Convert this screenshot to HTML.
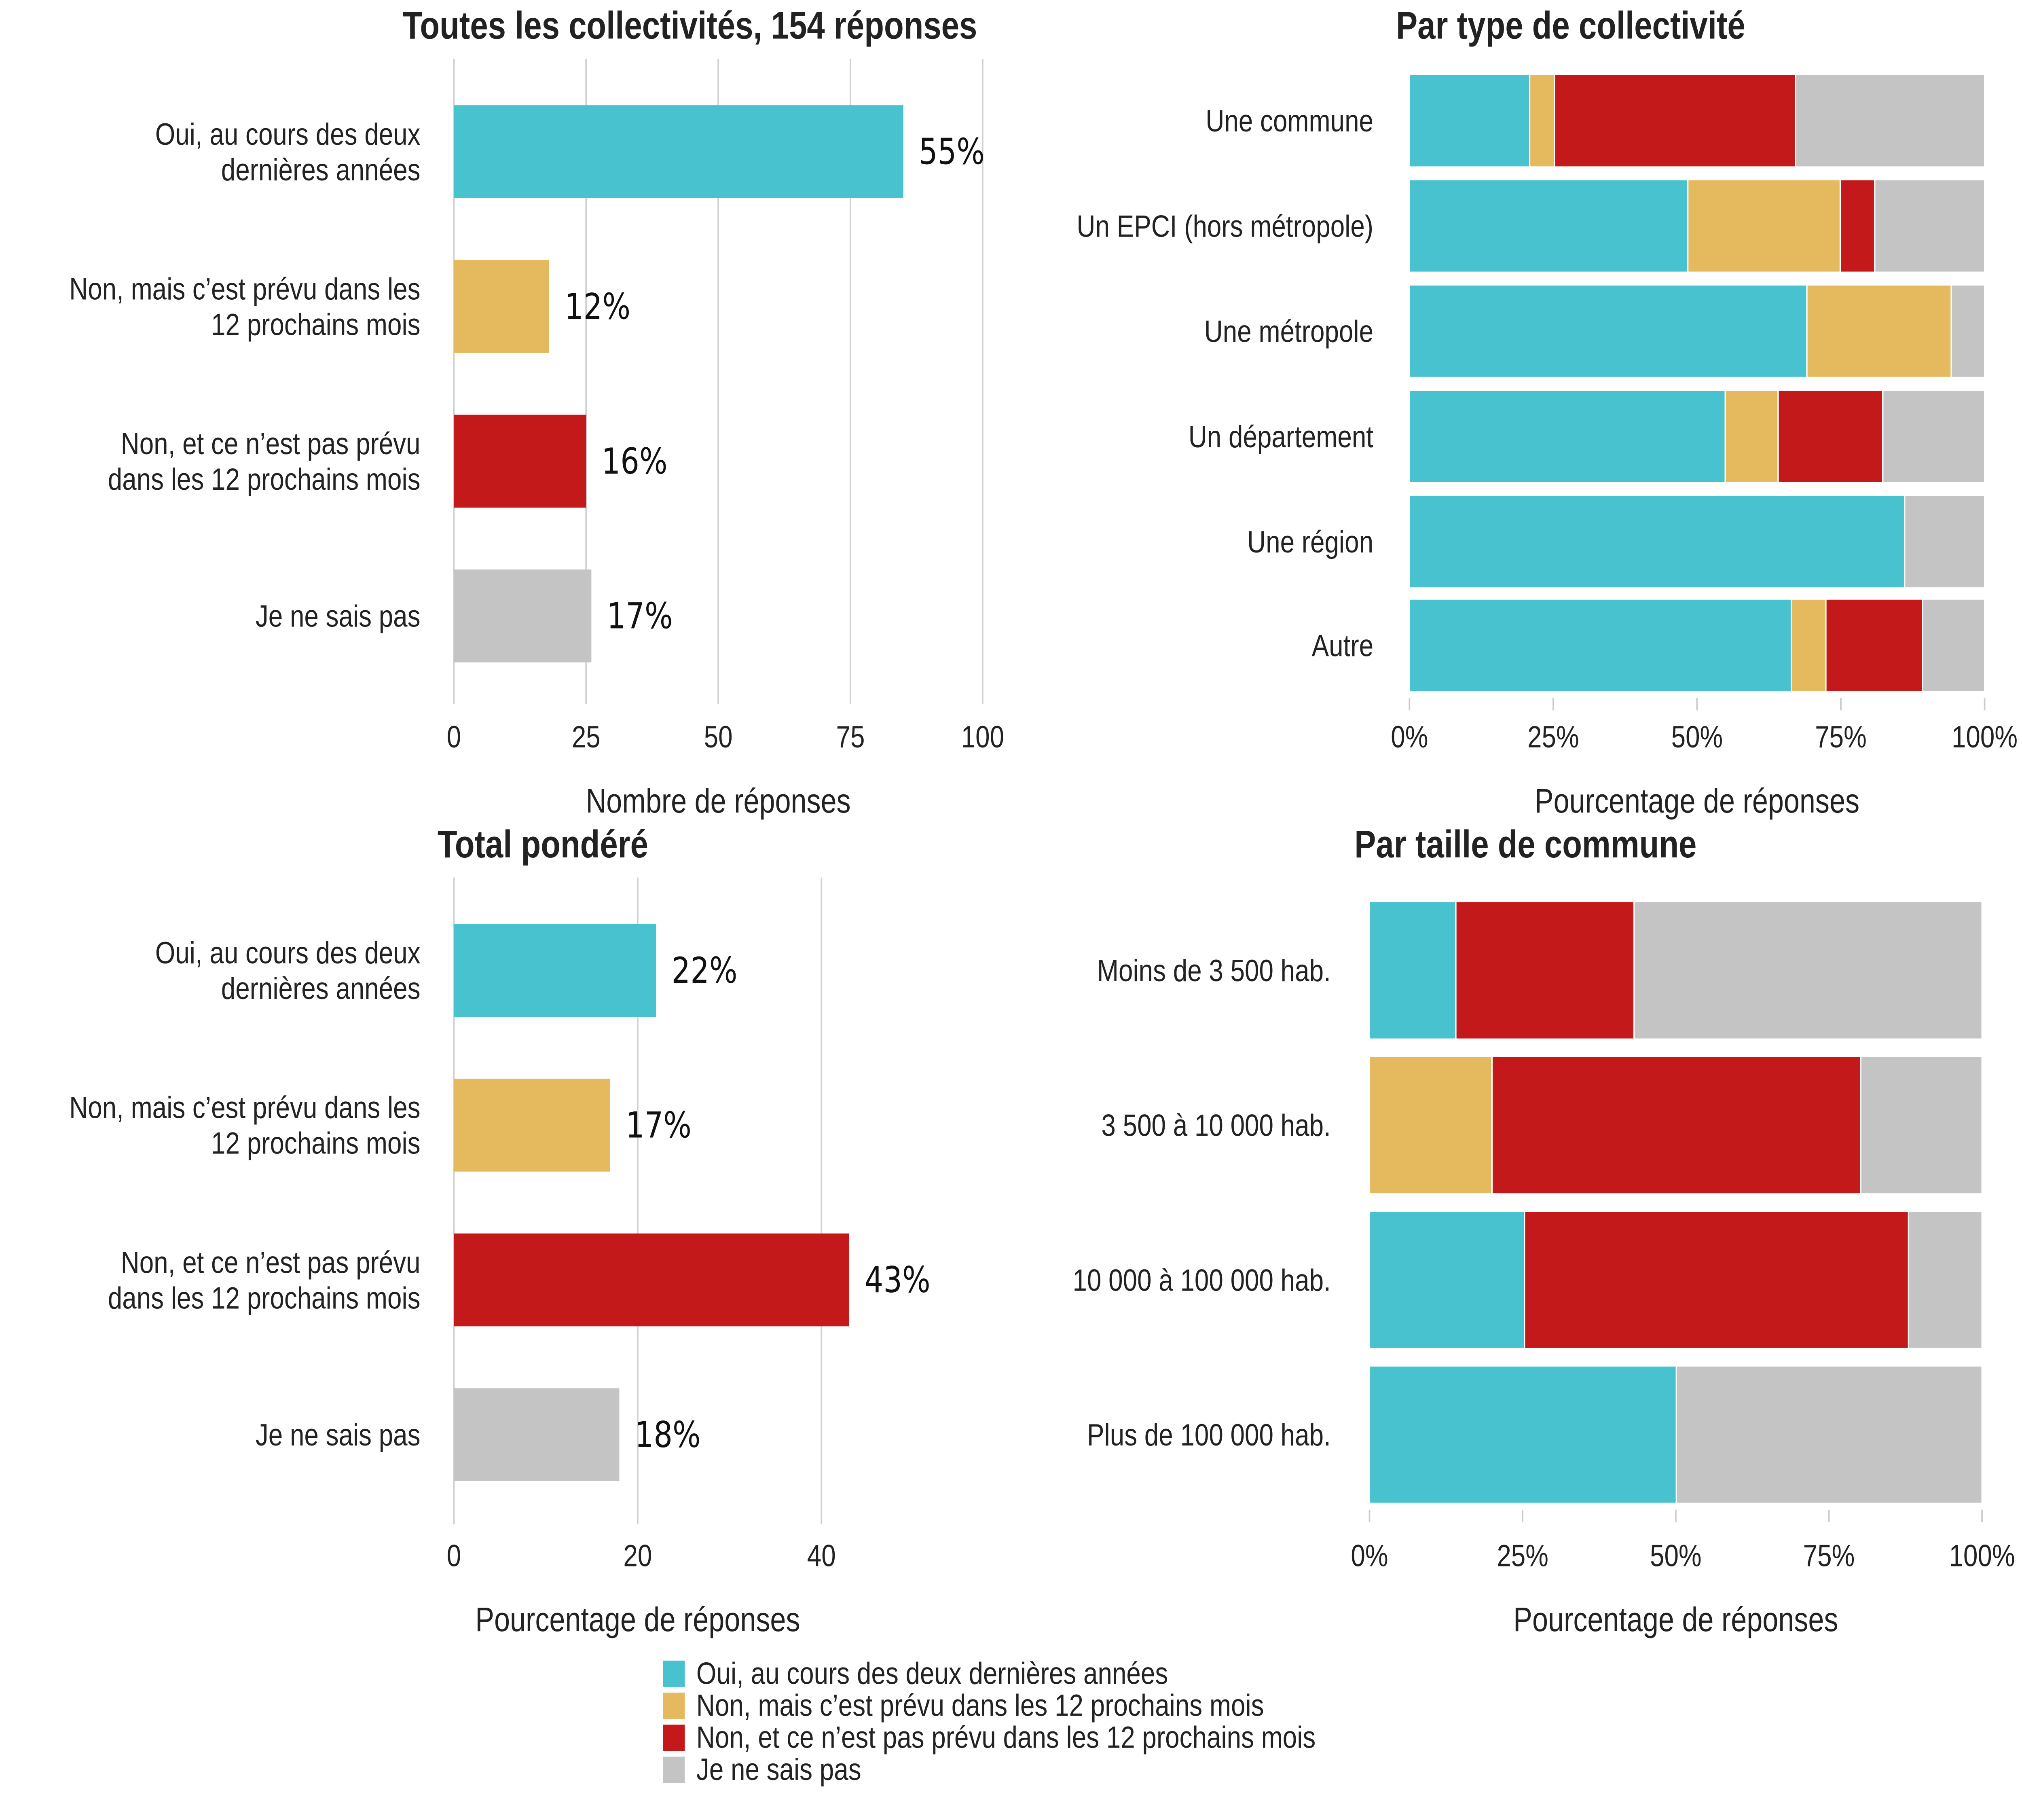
<!DOCTYPE html>
<html><head><meta charset="utf-8"><style>
html,body{margin:0;padding:0;background:#fff;width:100%;height:100%;overflow:hidden}
svg{display:block;font-family:"Liberation Sans",sans-serif;width:100vw;height:100vh}
</style></head><body>
<svg id="c" viewBox="0 0 1568 1176" preserveAspectRatio="none" xmlns="http://www.w3.org/2000/svg"><g id="root"></g></svg>
<script>
const colors = ["#47c2ce","#e5ba5e","#c4191b","#c4c4c4"];
const answers = ["Oui, au cours des deux dernières années","Non, mais c’est prévu dans les 12 prochains mois","Non, et ce n’est pas prévu dans les 12 prochains mois","Je ne sais pas"];
const answerLines = [["Oui, au cours des deux","dernières années"],["Non, mais c’est prévu dans les","12 prochains mois"],["Non, et ce n’est pas prévu","dans les 12 prochains mois"],["Je ne sais pas"]];
const p1Counts = [85,18,25,26];
const p1Labels = ["55%","12%","16%","17%"];
const p1Ticks = [0,25,50,75,100];
const p3Values = [22,17,43,18];
const p3Labels = ["22%","17%","43%","18%"];
const p3Ticks = [0,20,40];
const p2Cats = ["Une commune","Un EPCI (hors métropole)","Une métropole","Un département","Une région","Autre"];
const p2Oui = [20.9,48.4,69.1,54.9,86.1,66.4];
const p2NonMais = [4.3,26.5,25.1,9.2,0,6.0];
const p2NonEt = [41.9,6.0,0,18.2,0,16.8];
const p2Nsp = [32.9,19.1,5.8,17.7,13.9,10.8];
const p4Cats = ["Moins de 3 500 hab.","3 500 à 10 000 hab.","10 000 à 100 000 hab.","Plus de 100 000 hab."];
const p4Oui = [14.1,0,25.3,50.1];
const p4NonMais = [0,20,0,0];
const p4NonEt = [29.1,60.2,62.7,0];
const p4Nsp = [56.8,19.8,12.0,49.9];
const pctTicks = [0,25,50,75,100];
const pctTickLabels = ["0%","25%","50%","75%","100%"];

const svg = document.getElementById('root');
const NS = "http://www.w3.org/2000/svg";
function mk(tag, attrs, parent){const e=document.createElementNS(NS,tag);for(const k in attrs)e.setAttribute(k,attrs[k]);(parent||svg).appendChild(e);return e;}
function txt(s, attrs, parent){const e=mk('text',attrs,parent);e.textContent=s;return e;}

function barPanel(name, title, titleX, x0, x1, maxV, ticks, yTop, yBot, rowY, values, labels, tickY, axTitle){
  const g=mk('g',{});
  
  
  const sx=v=>x0+(x1-x0)*v/maxV;
  ticks.forEach(t=>{const l=mk('line',{x1:sx(t),x2:sx(t),y1:yTop,y2:yBot,stroke:'#d0d0d0','stroke-width':1.2},g);
    
    
    const tl=txt(String(t),{x:sx(t),y:tickY,'text-anchor':'middle','font-size':20,fill:'#222'},g);
    
    });
  values.forEach((v,i)=>{const cy=rowY[i];
    const r=mk('rect',{x:x0,y:cy-30,width:sx(v)-x0,height:60,fill:colors[i]},g);
    
    
    const vl=txt(labels[i],{x:sx(v)+12,y:cy+8,'font-size':23,fill:'#111','font-family':'DejaVu Sans, sans-serif'},g);
    
    
    const lines=answerLines[i];
    lines.forEach((s,j)=>{const y=cy+7+(j-(lines.length-1)/2)*23;
      const cl=txt(s,{x:326,y:y,'text-anchor':'end','font-size':20,fill:'#222'},g);
      
      });
  });
  const at=txt(axTitle,{x:(x0+x1)/2,y:tickY+42,'text-anchor':'middle','font-size':22,fill:'#222'},g);
  
  
  const tt=txt(title,{x:titleX,y:yTop-13,'text-anchor':'middle','font-size':25,'font-weight':'bold',fill:'#222'},g);
  
  
}
function stackPanel(name,title,titleX,x0,x1,yTitle,cats,series,rowY,h,tickY,labelX){
  const g=mk('g',{});
  
  
  const sx=v=>x0+(x1-x0)*v/100;
  cats.forEach((c,i)=>{let acc=0;const cy=rowY[i];
    series.forEach((s,k)=>{const v=s[i]; if(v>0){
      const r=mk('rect',{x:sx(acc),y:cy-h/2,width:sx(acc+v)-sx(acc),height:h,fill:colors[k],stroke:'#fff','stroke-width':1},g);
      
      } acc+=v;});
    const cl=txt(c,{x:labelX,y:cy+7,'text-anchor':'end','font-size':20,fill:'#222'},g);
    
    
  });
  const yb=rowY[rowY.length-1]+h/2;
  pctTicks.forEach((t,i)=>{
    const tm=mk('line',{x1:sx(t),x2:sx(t),y1:yb+4,y2:yb+12,stroke:'#cccccc','stroke-width':1.2},g);
    
    
    const tl=txt(pctTickLabels[i],{x:sx(t),y:tickY,'text-anchor':'middle','font-size':20,fill:'#222'},g);
    
    });
  const at=txt('Pourcentage de réponses',{x:(x0+x1)/2,y:tickY+42,'text-anchor':'middle','font-size':22,fill:'#222'},g);
  
  
  const tt=txt(title,{x:titleX,y:yTitle,'text-anchor':'middle','font-size':25,'font-weight':'bold',fill:'#222'},g);
  
  
}
barPanel('panel-all','Toutes les collectivités, 154 réponses',535,352,762,100,p1Ticks,38,455,[98,198,298,398],p1Counts,p1Labels,483,'Nombre de réponses');
barPanel('panel-weighted','Total pondéré',421,352,637,40,p3Ticks,567,985,[627,727,827,927],p3Values,p3Labels,1012,'Pourcentage de réponses');
stackPanel('panel-type','Par type de collectivité',1218,1093,1539,25,p2Cats,[p2Oui,p2NonMais,p2NonEt,p2Nsp],[78,146,214,282,350,417],60,483,1065);
stackPanel('panel-size','Par taille de commune',1183,1062,1537,554,p4Cats,[p4Oui,p4NonMais,p4NonEt,p4Nsp],[627,727,827,927],89,1012,1032);
const lg=mk('g',{});


answers.forEach((a,i)=>{const y=1073+i*20.7;
  const r=mk('rect',{x:514,y:y,width:17,height:17,fill:colors[i]},lg);
  
  
  const t=txt(a,{x:540,y:y+15,'font-size':20,fill:'#222'},lg);
  
  });
</script>
</body></html>
